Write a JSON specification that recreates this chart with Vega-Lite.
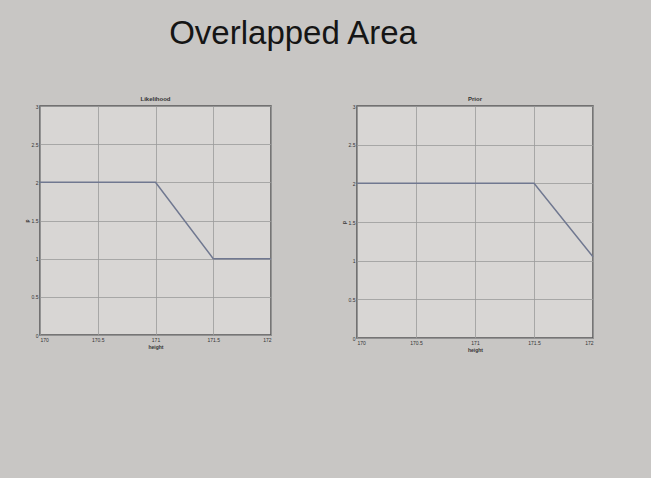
{
  "$schema": "https://vega.github.io/schema/vega-lite/v6.json",
  "background": "#c8c6c4",
  "padding": {"left": 23, "top": 18, "right": 54, "bottom": 130},
  "title": {"text": "Overlapped Area", "font": "Liberation Sans", "fontSize": 33, "fontWeight": "normal", "color": "#151515", "offset": 44, "anchor": "middle", "dx": -17},
  "datasets": {
    "lik": [
      {"height": 170, "value": 2},
      {"height": 170.5, "value": 2},
      {"height": 171, "value": 2},
      {"height": 171.5, "value": 1},
      {"height": 172, "value": 1}
    ],
    "prior": [
      {"height": 170, "value": 2},
      {"height": 170.5, "value": 2},
      {"height": 171, "value": 2},
      {"height": 171.5, "value": 2},
      {"height": 172, "value": 1.05}
    ]
  },
  "config": {
    "view": {"fill": "#d8d6d4", "stroke": "#555555", "strokeWidth": 1.5},
    "axis": {"labelFont": "Liberation Sans", "titleFont": "Liberation Sans", "labelFontSize": 5, "titleFontSize": 5, "labelColor": "#333333", "titleColor": "#333333", "gridColor": "#9a9a9a", "gridWidth": 0.8, "domain": false, "ticks": false, "labelPadding": 2, "titlePadding": 2},
    "title": {"font": "Liberation Sans", "fontSize": 6, "color": "#333333", "fontWeight": "bold", "offset": 2},
    "concat": {"spacing": 65}
  },
  "hconcat": [
    {
      "title": "Likelihood",
      "width": 231,
      "height": 229,
      "data": {"name": "lik"},
      "mark": {"type": "line", "color": "#707890", "strokeWidth": 1.5},
      "encoding": {
        "x": {"field": "height", "type": "quantitative", "scale": {"domain": [170, 172], "nice": false}, "axis": {"values": [170, 170.5, 171, 171.5, 172], "title": "height", "format": "~g"}},
        "y": {"field": "value", "type": "quantitative", "scale": {"domain": [0, 3], "nice": false}, "axis": {"values": [0, 0.5, 1, 1.5, 2, 2.5, 3], "title": "p", "format": "~g"}}
      }
    },
    {
      "title": "Prior",
      "width": 236,
      "height": 232,
      "data": {"name": "prior"},
      "mark": {"type": "line", "color": "#707890", "strokeWidth": 1.5},
      "encoding": {
        "x": {"field": "height", "type": "quantitative", "scale": {"domain": [170, 172], "nice": false}, "axis": {"values": [170, 170.5, 171, 171.5, 172], "title": "height", "format": "~g"}},
        "y": {"field": "value", "type": "quantitative", "scale": {"domain": [0, 3], "nice": false}, "axis": {"values": [0, 0.5, 1, 1.5, 2, 2.5, 3], "title": "p", "format": "~g"}}
      }
    }
  ]
}
